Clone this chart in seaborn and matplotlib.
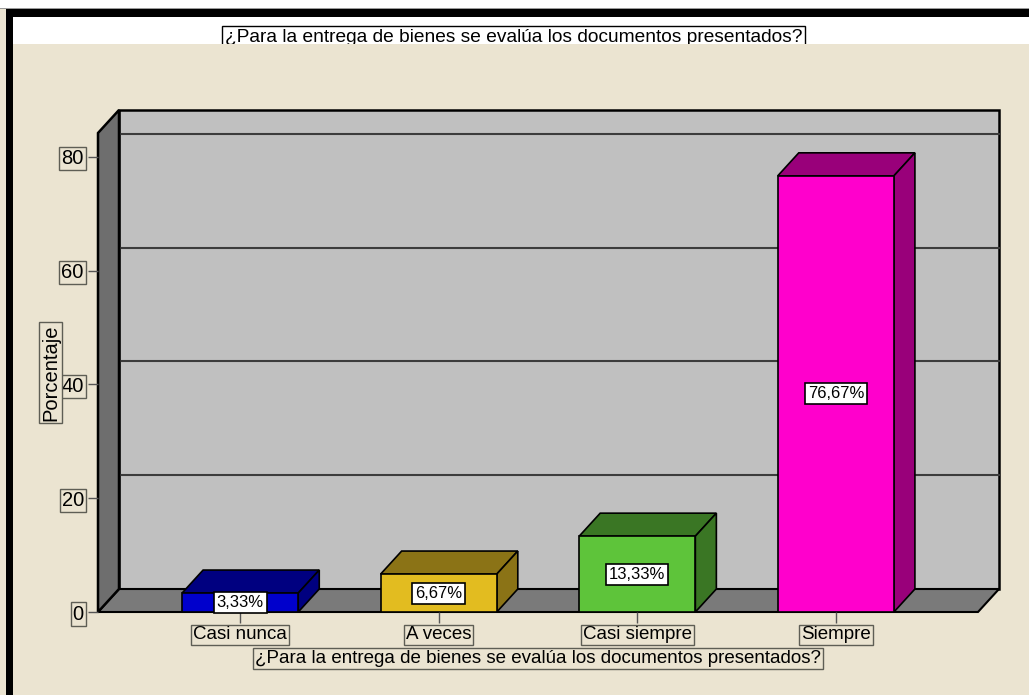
import matplotlib
matplotlib.use("Agg")
import matplotlib.pyplot as plt
import seaborn as sns
import pandas as pd
from matplotlib.patches import Rectangle, Polygon
from matplotlib.lines import Line2D
from matplotlib.transforms import ScaledTranslation, IdentityTransform

# ---------------- data ----------------
categories = ["Casi nunca", "A veces", "Casi siempre", "Siempre"]
percentages = [3.33, 6.67, 13.33, 76.67]
value_labels = ["3,33%", "6,67%", "13,33%", "76,67%"]
y_ticks = [0, 20, 40, 60, 80]
title_text = "¿Para la entrega de bienes se evalúa los documentos presentados?"
x_label = "¿Para la entrega de bienes se evalúa los documentos presentados?"
y_label = "Porcentaje"

# ---------------- style ----------------
front_colors = ["#0000CC", "#E2BC20", "#5EC43A", "#FF00CC"]
side_colors = ["#000080", "#8B7316", "#3A7624", "#99007A"]
BEIGE = "#EBE4D1"
WALL = "#C0C0C0"
FLOOR = "#7A7A7A"
LWALL = "#6E6E6E"
NARROW = ["Liberation Sans Narrow", "DejaVu Sans Condensed", "Liberation Sans", "DejaVu Sans"]

plt.rcParams["font.family"] = ["Liberation Sans", "DejaVu Sans"]

W, H, DPI = 1029, 695, 100
DX, DY = 21, 23  # depth offset in pixels

fig = plt.figure(figsize=(W / DPI, H / DPI), dpi=DPI, facecolor=BEIGE)


def frect(x0, y0, x1, y1, color, z):
    fig.add_artist(Rectangle((x0 / W, 1 - y1 / H), (x1 - x0) / W, (y1 - y0) / H,
                             transform=fig.transFigure, fc=color, ec="none", zorder=z))


# window frame
frect(0, 0, W, 8, "white", 1)
frect(0, 8, W, 9, "#9a9a9a", 1)
frect(6, 9, W, 17, "black", 1)
frect(6, 9, 13, H, "black", 1)
frect(13, 17, W, 44, "white", 1)

# title (clipped by beige area below)
fig.text(513.5 / W, 1 - 37 / H, title_text, ha="center", va="center", fontsize=13.8,
         bbox=dict(boxstyle="square,pad=0.12", fc="white", ec="black", lw=1), zorder=3)
frect(150, 44, 900, 60, BEIGE, 4)

# axes = front plane of the 3D box
ax = fig.add_axes([98 / W, 1 - 612 / H, (978 - 98) / W, (612 - 133) / H])
ax.patch.set_visible(False)

df = pd.DataFrame({"cat": categories, "pct": percentages})
sns.barplot(data=df, x="cat", y="pct", hue="cat", order=categories, hue_order=categories,
            palette=dict(zip(categories, front_colors)), saturation=1, width=0.585,
            edgecolor="black", linewidth=1.2, legend=False, ax=ax, zorder=3)
bars = sorted(list(ax.patches), key=lambda r: r.get_x())

ax.set_xlim(-0.716, 3.716)
ax.set_ylim(0, 84.2)
ax.autoscale(False)
for s in ax.spines.values():
    s.set_visible(False)

offset = ScaledTranslation(DX / DPI, DY / DPI, fig.dpi_scale_trans)

# back wall
ax.add_patch(Rectangle((0, 0), 1, 1, transform=ax.transAxes + offset, fc=WALL,
                       ec="black", lw=1.8, zorder=0.5, clip_on=False))
# grid lines on back wall
for v in y_ticks[1:]:
    ax.add_line(Line2D([0, 1], [v, v], transform=ax.get_yaxis_transform() + offset,
                       color="#3c3c3c", lw=1.5, zorder=0.6, clip_on=False))

ident = IdentityTransform()


def poly(pts, fc, z, lw=1.5):
    ax.add_patch(Polygon(pts, closed=True, transform=ident, fc=fc, ec="black",
                         lw=lw, zorder=z, clip_on=False, joinstyle="miter"))


a0, a1, a2 = ax.transAxes.transform([(0, 0), (1, 0), (0, 1)])
# floor
poly([a0, a1, (a1[0] + DX, a1[1] + DY), (a0[0] + DX, a0[1] + DY)], FLOOR, 0.7)
# left wall
poly([a0, a2, (a2[0] + DX, a2[1] + DY), (a0[0] + DX, a0[1] + DY)], LWALL, 0.8, lw=1.8)

# 3D faces of bars
for bar, sc in zip(bars, side_colors):
    x0, y0, w, h = bar.get_x(), bar.get_y(), bar.get_width(), bar.get_height()
    tl, tr, br = ax.transData.transform([(x0, y0 + h), (x0 + w, y0 + h), (x0 + w, y0)])
    poly([tl, tr, (tr[0] + DX, tr[1] + DY), (tl[0] + DX, tl[1] + DY)], sc, 2.9, lw=1.2)
    poly([tr, br, (br[0] + DX, br[1] + DY), (tr[0] + DX, tr[1] + DY)], sc, 2.9, lw=1.2)

# value labels
for i, (v, lab) in enumerate(zip(percentages, value_labels)):
    ax.text(i, v / 2, lab, ha="center", va="center", fontsize=12, zorder=6,
            bbox=dict(boxstyle="square,pad=0.18", fc="white", ec="black", lw=1.2))

# ticks & labels
box_kw = dict(boxstyle="square,pad=0.1", fc=BEIGE, ec="#5e5e55", lw=1)
ax.set_xticks(range(len(categories)))
ax.set_xticklabels(categories)
ax.tick_params(axis="x", length=7.9, width=1, color="#555555", pad=2.5, labelsize=13.5)
for lbl in ax.get_xticklabels():
    lbl.set_bbox(box_kw)

ax.set_yticks(y_ticks)
ax.set_yticklabels([str(t) for t in y_ticks])
ax.tick_params(axis="y", length=7.2, width=1, color="#555555", pad=3, labelsize=14.5)
for lbl in ax.get_yticklabels():
    lbl.set_family(NARROW)
    lbl.set_bbox(box_kw)

ax.set_xlabel(x_label, fontsize=13.5, labelpad=4.5, bbox=box_kw)
ax.set_ylabel(y_label, fontsize=14.5, family=NARROW, labelpad=1, bbox=box_kw)

fig.savefig("out.png", dpi=DPI, facecolor=BEIGE)
